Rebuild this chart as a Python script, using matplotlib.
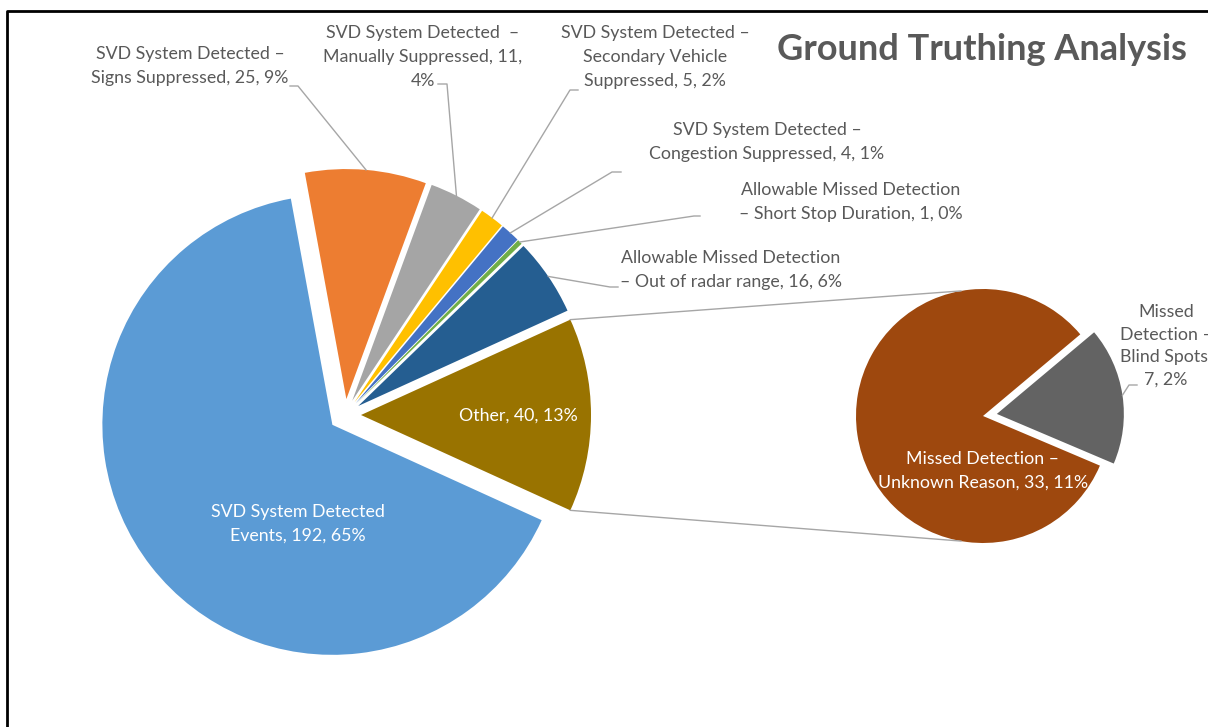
import numpy as np
import matplotlib.pyplot as plt

plt.rcParams['font.family'] = ['Lato', 'DejaVu Sans']

# main pie, counter-clockwise starting with the "Other" slice on the right
main_names = ['Other',
              'Allowable Missed Detection\n– Out of radar range',
              'Allowable Missed Detection\n– Short Stop Duration',
              'SVD System Detected –\nCongestion Suppressed',
              'SVD System Detected –\nSecondary Vehicle\nSuppressed',
              'SVD System Detected  –\nManually Suppressed',
              'SVD System Detected –\nSigns Suppressed',
              'SVD System Detected\nEvents']
main_values = [40, 16, 1, 4, 5, 11, 25, 192]
main_pcts = [13, 6, 0, 1, 2, 4, 9, 65]
main_colors = ['#997300', '#255E91', '#70AD47', '#4472C4',
               '#FFC000', '#A5A5A5', '#ED7D31', '#5B9BD5']

# secondary pie breaking down "Other"
sub_names = ['Missed\nDetection –\nBlind Spots', 'Missed Detection –\nUnknown Reason']
sub_values = [7, 33]
sub_pcts = [2, 11]
sub_colors = ['#636363', '#9E480E']

W, H = 1208, 727
fig = plt.figure(figsize=(W / 100, H / 100), dpi=100)
ax = fig.add_axes([0, 0, 1, 1])

txt = '#595959'
fs = 12.8
ls = 1.58

c1, r1 = (345, 312), 230
c2, r2 = (983, 311), 127
start1 = -0.5 * 360 * main_values[0] / sum(main_values)
w1, _ = ax.pie(main_values, colors=main_colors, startangle=start1, radius=r1,
               center=c1, explode=[16] * len(main_values), frame=True,
               wedgeprops=dict(linewidth=0))
w2, _ = ax.pie(sub_values, colors=sub_colors, startangle=-23, radius=r2,
               center=c2, explode=[14, 0], frame=True,
               wedgeprops=dict(linewidth=0))
ax.set_xlim(0, W)
ax.set_ylim(0, H)
ax.set_aspect('equal')
ax.axis('off')


def arc_mid(w):
    t = np.deg2rad((w.theta1 + w.theta2) / 2)
    cx, cy = w.center
    return cx + w.r * np.cos(t), cy + w.r * np.sin(t)


def label(name, val, pct):
    return f'{name}, {val}, {pct}%'


lc = '#A6A6A6'
# outside labels: text centre, hook start, hook end
outside = {
    1: ((731, 457), (618, 440), (610, 440)),
    2: ((851, 525), (700, 511), (694, 511)),
    3: ((767, 585), (621, 555), (612, 555)),
    4: ((655, 670), (578, 637), (570, 637)),
    5: ((423, 670), (438, 643), (447, 643)),
    6: ((190, 661), (290, 641), (298, 641)),
}
texts = {
    5: 'SVD System Detected  –\nManually Suppressed, 11,\n4%',
    4: 'SVD System Detected –\nSecondary Vehicle\nSuppressed, 5, 2%',
}
for i, (tpos, h0, h1) in outside.items():
    s = texts.get(i, label(main_names[i], main_values[i], main_pcts[i]))
    ax.text(*tpos, s, ha='center', va='center', color=txt, fontsize=fs,
            linespacing=ls)
    mx, my = arc_mid(w1[i])
    ax.plot([h0[0], h1[0], mx], [h0[1], h1[1], my], color=lc, lw=1)

# inside labels
ax.text(518, 311, label(main_names[0], main_values[0], main_pcts[0]),
        ha='center', va='center', color='white', fontsize=fs)
ax.text(298, 203, label(main_names[7], main_values[7], main_pcts[7]),
        ha='center', va='center', color='white', fontsize=fs, linespacing=ls)
ax.text(983, 256, label(sub_names[1], sub_values[1], sub_pcts[1]),
        ha='center', va='center', color='white', fontsize=fs, linespacing=ls)

ax.text(1166, 381, f'{sub_names[0]},\n{sub_values[0]}, {sub_pcts[0]}%',
        ha='center', va='center', color=txt, fontsize=fs, linespacing=1.5)
mx, my = arc_mid(w2[0])
ax.plot([1137, 1129, mx], [342, 342, my], color=lc, lw=1)

# connectors from "Other" to the secondary pie
other = w1[0]
ox, oy = other.center
for ang, sub_ang in [(other.theta2, 100), (other.theta1, -100)]:
    px = ox + r1 * np.cos(np.deg2rad(ang))
    py = oy + r1 * np.sin(np.deg2rad(ang))
    qx = c2[0] + r2 * np.cos(np.deg2rad(sub_ang))
    qy = c2[1] + r2 * np.sin(np.deg2rad(sub_ang))
    ax.plot([px, qx], [py, qy], color=lc, lw=1)

ax.text(982, 678, 'Ground Truthing Analysis', ha='center', va='center',
        color=txt, fontsize=26, fontweight='bold')

# chart frame
ax.plot([7, 7, W + 20], [-20, 716, 716], color='black', lw=2, clip_on=False)

fig.savefig('out.png', dpi=100)
